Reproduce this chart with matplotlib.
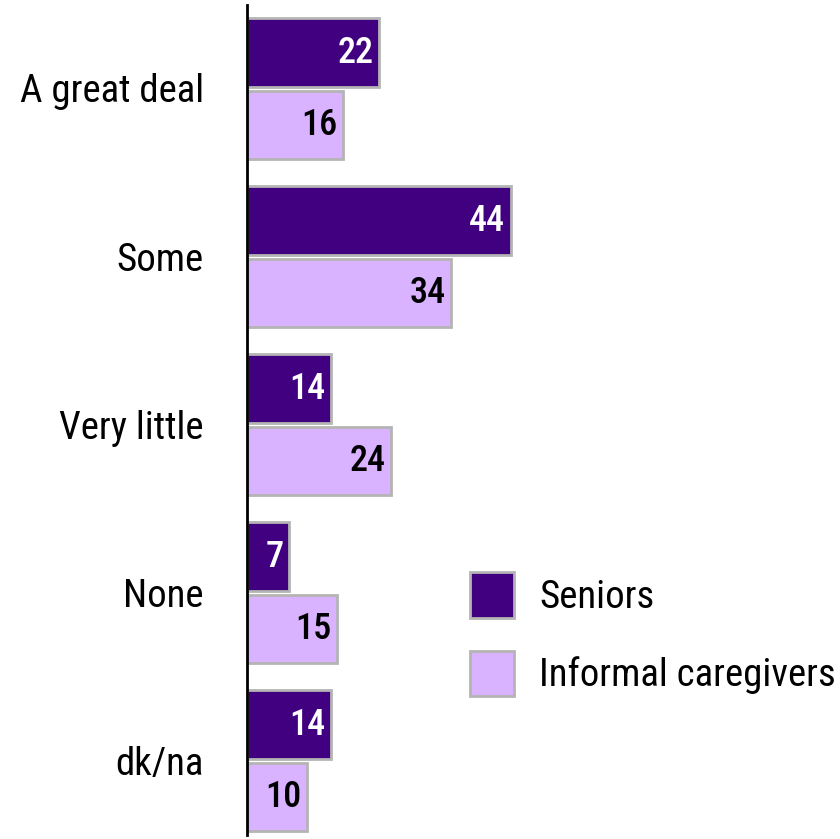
import matplotlib.pyplot as plt
import numpy as np

categories = ['A great deal', 'Some', 'Very little', 'None', 'dk/na']
seniors = [22, 44, 14, 7, 14]
caregivers = [16, 34, 24, 15, 10]

plt.rcParams['font.family'] = ['Roboto Condensed', 'DejaVu Sans']

dark = '#400080'
light = '#D9B3FF'
edge = '#B4B4B4'

fig = plt.figure(figsize=(8.4, 8.39), dpi=100)
ax = fig.add_axes([247 / 840, 4 / 839, 593 / 840, 830 / 839])

y = np.arange(len(categories))
h = 0.41
b1 = ax.barh(y - 0.211, seniors, height=h, color=dark, edgecolor=edge, linewidth=2, label='Seniors')
b2 = ax.barh(y + 0.22, caregivers, height=h, color=light, edgecolor=edge, linewidth=2, label='Informal caregivers')

for bars, vals, c in [(b1, seniors, 'white'), (b2, caregivers, 'black')]:
    for bar, v in zip(bars, vals):
        ax.text(v - 0.9, bar.get_y() + bar.get_height() / 2, str(v), ha='right', va='center',
                color=c, fontsize=26, fontweight='medium')

ax.set_xlim(0, 99)
ax.set_ylim(4.446, -0.494)
ax.set_yticks(y)
ax.set_yticklabels(categories, fontsize=28)
ax.tick_params(axis='y', length=0, pad=31)
ax.set_xticks([])
for s in ['top', 'right', 'bottom']:
    ax.spines[s].set_visible(False)
ax.spines['left'].set_linewidth(2)

ax.legend(loc='upper left', bbox_to_anchor=(470 / 840, 1 - 572 / 839), bbox_transform=fig.transFigure,
          frameon=False, prop={'size': 28}, handlelength=1.14, handleheight=1.43,
          handletextpad=0.64, labelspacing=0.85, borderpad=0, borderaxespad=0)

fig.savefig('out.png', dpi=100)
